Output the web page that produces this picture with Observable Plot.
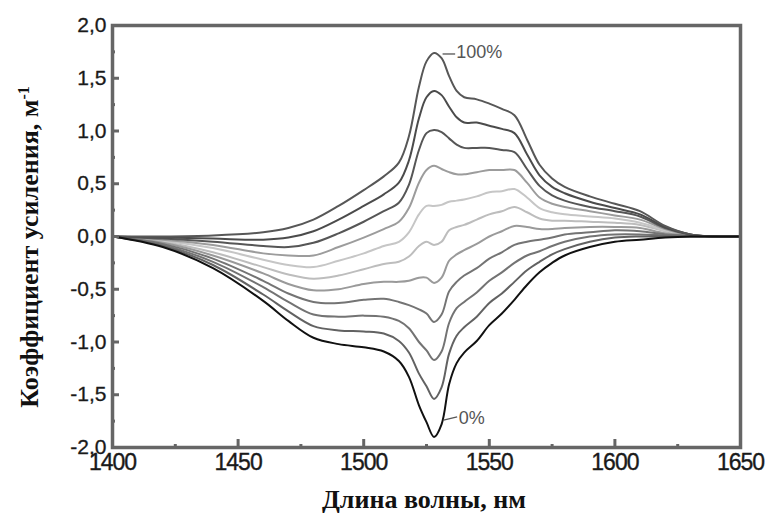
<!DOCTYPE html>
<html><head><meta charset="utf-8">
<script src="https://cdn.jsdelivr.net/npm/d3@7"></script>
<script src="https://cdn.jsdelivr.net/npm/@observablehq/plot@0.6"></script>
<style>
body{margin:0;background:#fff}
#chart{position:relative;width:773px;height:521px;overflow:hidden}
g[aria-label="x-axis tick label"] text{letter-spacing:-1px;stroke:#1a1a1a;stroke-width:0.35px}
g[aria-label="y-axis tick label"] text{stroke:#1a1a1a;stroke-width:0.3px}
</style>
</head><body><div id="chart"></div>
<script>
// Wavelength grid (nm)
const wavelength = [1400,1420,1440,1460,1470,1480,1490,1500,1508,1514,1518,1522,1525,1528,1531,1534,1537,1540,1545,1550,1555,1560,1565,1570,1575,1580,1590,1600,1610,1620,1630,1640,1650];
// Gain coefficient (1/m) for each inversion level
const g0   = [0,-0.10,-0.30,-0.61,-0.80,-0.96,-1.02,-1.05,-1.09,-1.18,-1.33,-1.60,-1.76,-1.90,-1.78,-1.40,-1.20,-1.10,-0.99,-0.84,-0.73,-0.60,-0.46,-0.34,-0.25,-0.18,-0.10,-0.05,-0.03,-0.01,0,0,0];
const g10  = [0,-0.09,-0.27,-0.55,-0.71,-0.85,-0.89,-0.90,-0.92,-0.99,-1.10,-1.30,-1.42,-1.54,-1.43,-1.11,-0.94,-0.86,-0.76,-0.63,-0.54,-0.43,-0.32,-0.24,-0.17,-0.12,-0.05,-0.01,0,0,0,0,0];
const g20  = [0,-0.08,-0.24,-0.48,-0.62,-0.74,-0.76,-0.75,-0.76,-0.80,-0.87,-1.00,-1.08,-1.17,-1.09,-0.82,-0.68,-0.62,-0.53,-0.42,-0.34,-0.25,-0.18,-0.14,-0.09,-0.05,0,0.02,0.02,0.01,0,0,0];
const g30  = [0,-0.07,-0.21,-0.42,-0.54,-0.62,-0.63,-0.60,-0.59,-0.62,-0.65,-0.69,-0.73,-0.81,-0.74,-0.52,-0.43,-0.37,-0.30,-0.21,-0.15,-0.08,-0.05,-0.03,-0.01,0.02,0.04,0.06,0.05,0.02,0.01,0,0];
const g40  = [0,-0.06,-0.18,-0.35,-0.45,-0.51,-0.50,-0.45,-0.43,-0.43,-0.42,-0.39,-0.39,-0.44,-0.39,-0.23,-0.17,-0.13,-0.07,0,0.05,0.10,0.09,0.07,0.07,0.08,0.09,0.09,0.08,0.03,0.01,0,0];
const g50  = [0,-0.05,-0.15,-0.29,-0.36,-0.40,-0.37,-0.31,-0.26,-0.24,-0.19,-0.09,-0.05,-0.08,-0.05,0.06,0.09,0.11,0.16,0.21,0.24,0.28,0.23,0.17,0.15,0.15,0.14,0.13,0.11,0.05,0.01,0,0];
const g60  = [0,-0.04,-0.11,-0.22,-0.27,-0.29,-0.23,-0.16,-0.09,-0.05,0.04,0.21,0.29,0.29,0.30,0.33,0.34,0.35,0.38,0.42,0.43,0.45,0.37,0.27,0.23,0.21,0.19,0.17,0.13,0.06,0.01,0,0];
const g70  = [0,-0.03,-0.08,-0.16,-0.18,-0.18,-0.10,-0.01,0.07,0.14,0.27,0.51,0.63,0.67,0.64,0.61,0.59,0.59,0.61,0.63,0.63,0.63,0.51,0.37,0.31,0.28,0.24,0.20,0.16,0.07,0.01,0,0];
const g80  = [0,-0.02,-0.05,-0.09,-0.10,-0.06,0.03,0.14,0.24,0.32,0.49,0.82,0.98,1.01,0.99,0.93,0.87,0.84,0.84,0.84,0.82,0.80,0.64,0.48,0.39,0.34,0.28,0.24,0.19,0.08,0.02,0,0];
const g90  = [0,-0.01,-0.02,-0.03,-0.01,0.05,0.16,0.29,0.40,0.51,0.72,1.12,1.32,1.38,1.34,1.23,1.13,1.08,1.08,1.05,1.02,0.98,0.78,0.58,0.47,0.41,0.33,0.27,0.21,0.09,0.02,0,0];
const g100 = [0,0,0.01,0.04,0.08,0.16,0.29,0.44,0.57,0.70,0.95,1.42,1.66,1.74,1.69,1.52,1.38,1.32,1.30,1.26,1.21,1.15,0.92,0.68,0.55,0.47,0.38,0.31,0.24,0.10,0.02,0,0];

const seriesNames  = ["0%","10%","20%","30%","40%","50%","60%","70%","80%","90%","100%"];
const seriesValues = [g0,g10,g20,g30,g40,g50,g60,g70,g80,g90,g100];
const seriesColors = ["#111111","#626262","#737373","#747474","#9a9a9a","#bdbdbd","#c6c6c6","#9c9c9c","#565656","#4b4b4b","#575757"];
const drawOrder    = ["50%","60%","40%","70%","30%","20%","10%","80%","90%","100%","0%"];

const xTicks = [1400,1450,1500,1550,1600,1650];
const xMinor = [1425,1475,1525,1575,1625];
const yTicks = [-2,-1.5,-1,-0.5,0,0.5,1,1.5,2];
const yMinor = [-1.75,-1.25,-0.75,-0.25,0.25,0.75,1.25,1.75];

const annoText = ["100%","0%"];
const annoX1 = [1531.4,1531.8], annoY1 = [1.73,-1.74];
const annoX2 = [1536.4,1537.2], annoY2 = [1.73,-1.71];
const annoTX = [1536.8,1537.8], annoTY = [1.75,-1.72];

const rows = [];
drawOrder.forEach(name => {
  const i = seriesNames.indexOf(name);
  seriesValues[i].forEach((v, j) => rows.push({series: name, x: wavelength[j], y: v}));
});
const annos = annoText.map((t, i) => ({t, x1: annoX1[i], y1: annoY1[i], x2: annoX2[i], y2: annoY2[i], tx: annoTX[i], ty: annoTY[i]}));

const W = 773, H = 521, mL = 112, mR = 33, mT = 25, mB = 74;
const innerW = W - mL - mR, innerH = H - mT - mB;
const axisColor = "#666";

const svg = Plot.plot({
  width: W, height: H,
  marginLeft: mL, marginRight: mR, marginTop: mT, marginBottom: mB,
  x: {domain: [xTicks[0], xTicks[xTicks.length - 1]]},
  y: {domain: [yTicks[0], yTicks[yTicks.length - 1]]},
  color: {domain: seriesNames, range: seriesColors},
  style: {fontFamily: "'Liberation Sans', Arial, sans-serif", background: "#fff", overflow: "visible"},
  marks: [
    Plot.line(rows, {x: "x", y: "y", z: "series", stroke: "series", strokeWidth: 2, curve: "catmull-rom"}),
    Plot.link(annos, {x1: "x1", y1: "y1", x2: "x2", y2: "y2", stroke: "#555", strokeWidth: 1.3}),
    Plot.text(annos, {x: "tx", y: "ty", text: "t", textAnchor: "start", fontSize: 18, fill: "#555"}),
    Plot.tickY(yTicks, {y: d => d, insetRight: innerW - 7, stroke: axisColor, strokeWidth: 3}),
    Plot.tickY(yMinor, {y: d => d, insetRight: innerW - 3, stroke: axisColor, strokeWidth: 3}),
    Plot.tickX(xTicks, {x: d => d, insetTop: innerH - 8, stroke: axisColor, strokeWidth: 3}),
    Plot.tickX(xMinor, {x: d => d, insetTop: innerH - 3, stroke: axisColor, strokeWidth: 3}),
    Plot.frame({stroke: axisColor, strokeWidth: 3.5}),
    Plot.axisY(yTicks, {tickSize: 0, tickPadding: 6, fontSize: 21, fill: "#1a1a1a",
      tickFormat: d => d.toFixed(1).replace(".", ",")}),
    Plot.axisX(xTicks, {tickSize: 0, tickPadding: 6, fontSize: 23, fill: "#1a1a1a",
      tickFormat: d => String(d)})
  ]
});
document.getElementById("chart").appendChild(svg);

const s = d3.select(svg);
s.append("text")
  .attr("x", 424).attr("y", 508)
  .attr("text-anchor", "middle")
  .style("font-family", "'Liberation Serif','Times New Roman',serif")
  .style("font-weight", "bold").style("font-size", "26px").style("fill", "#111")
  .text("Длина волны, нм");
const yt = s.append("text")
  .attr("transform", "translate(38,247) rotate(-90)")
  .attr("text-anchor", "middle")
  .style("font-family", "'Liberation Serif','Times New Roman',serif")
  .style("font-weight", "bold").style("font-size", "26px").style("fill", "#111");
yt.append("tspan").text("Коэффициент усиления, м");
yt.append("tspan").attr("dy", "-0.55em").style("font-size", "16px").text("-1");
</script>
</body></html>
